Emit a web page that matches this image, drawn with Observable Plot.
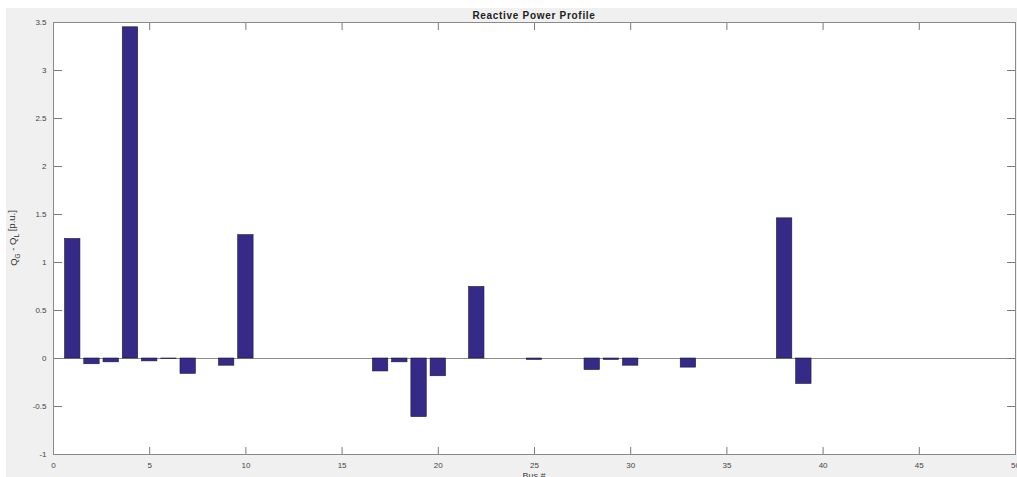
<!DOCTYPE html>
<html><head><meta charset="utf-8">
<script src="https://cdn.jsdelivr.net/npm/d3@7"></script>
<script src="https://cdn.jsdelivr.net/npm/@observablehq/plot@0.6"></script>
<style>
html,body{margin:0;padding:0;background:#fff;overflow:hidden}
#fig{position:absolute;left:6px;top:8px;width:1011px;height:469px;background:#f0f0f0;overflow:hidden}
</style></head><body><div id="fig"></div>
<script>
const buses = d3.range(1, 50);
const qValues = [
  1.245, -0.06, -0.04, 3.45, -0.03, -0.006, -0.16, 0, -0.075, 1.285,
  0, 0, 0, 0, 0, 0, -0.135, -0.04, -0.61, -0.185,
  0, 0.745, 0, 0, -0.015, 0, 0, -0.12, -0.015, -0.075,
  0, 0, -0.095, 0, 0, 0, 0, 1.46, -0.265, 0,
  0, 0, 0, 0, 0, 0, 0, 0, 0
];
const xTicks = [0, 5, 10, 15, 20, 25, 30, 35, 40, 45, 50];
const yTicks = [-1, -0.5, 0, 0.5, 1, 1.5, 2, 2.5, 3, 3.5];
const titleText = "Reactive Power Profile";
const xLabel = "Bus #";

const data = buses.map((b, i) => ({bus: b, q: qValues[i]})).filter(d => d.q !== 0);
const W = 1011, H = 469;
const fmt = d => String(d);
const tickColor = "#7a7a7a";

const plot = Plot.plot({
  width: W, height: H,
  marginLeft: 47, marginRight: 2, marginTop: 14, marginBottom: 23,
  style: {background: "#f0f0f0", color: "#444", fontFamily: "'Liberation Sans', Arial, sans-serif", fontSize: "8px", overflow: "visible"},
  x: {type: "linear", domain: [0, 50]},
  y: {type: "linear", domain: [-1, 3.5]},
  marks: [
    Plot.frame({fill: "white", stroke: null}),
    Plot.ruleY([0], {stroke: "#8c8c8c", strokeWidth: 1}),
    Plot.rect(data, {x1: d => d.bus - 0.4, x2: d => d.bus + 0.4, y1: 0, y2: "q", fill: "#352a87", stroke: "#1c1a3a", strokeWidth: 0.6}),
    Plot.axisX(xTicks, {anchor: "bottom", tickSize: 0, tickPadding: 8, tickFormat: fmt, label: null}),
    Plot.axisX(xTicks, {anchor: "bottom", tickSize: -7, tickFormat: () => "", label: null, stroke: tickColor}),
    Plot.axisX(xTicks, {anchor: "top", tickSize: -7, tickFormat: () => "", label: null, stroke: tickColor}),
    Plot.axisY(yTicks, {anchor: "left", tickSize: 0, tickPadding: 7, tickFormat: fmt, label: null}),
    Plot.axisY(yTicks, {anchor: "left", tickSize: -9, tickFormat: () => "", label: null, stroke: tickColor}),
    Plot.axisY(yTicks, {anchor: "right", tickSize: -9, tickFormat: () => "", label: null, stroke: tickColor}),
    Plot.frame({stroke: "#8a8a8a"})
  ]
});
document.getElementById("fig").appendChild(plot);

const svg = d3.select(plot);
svg.append("text")
  .attr("x", 528).attr("y", 10.5)
  .attr("text-anchor", "middle")
  .attr("font-weight", "bold").attr("font-size", 10)
  .attr("letter-spacing", 0.7)
  .attr("fill", "#222")
  .text(titleText);

const yl = svg.append("text")
  .attr("transform", "translate(11.3,230) rotate(-90)")
  .attr("text-anchor", "middle")
  .attr("font-size", 9.5)
  .attr("fill", "#333");
yl.append("tspan").text("Q");
yl.append("tspan").attr("font-size", 6.5).attr("dy", "0.35em").text("G");
yl.append("tspan").attr("dy", "-0.35em").text(" - Q");
yl.append("tspan").attr("font-size", 6.5).attr("dy", "0.35em").text("L");
yl.append("tspan").attr("dy", "-0.35em").text(" [p.u.]");

svg.append("text")
  .attr("x", 528).attr("y", 470.5)
  .attr("text-anchor", "middle")
  .attr("font-size", 9)
  .attr("fill", "#444")
  .text(xLabel);
</script></body></html>
